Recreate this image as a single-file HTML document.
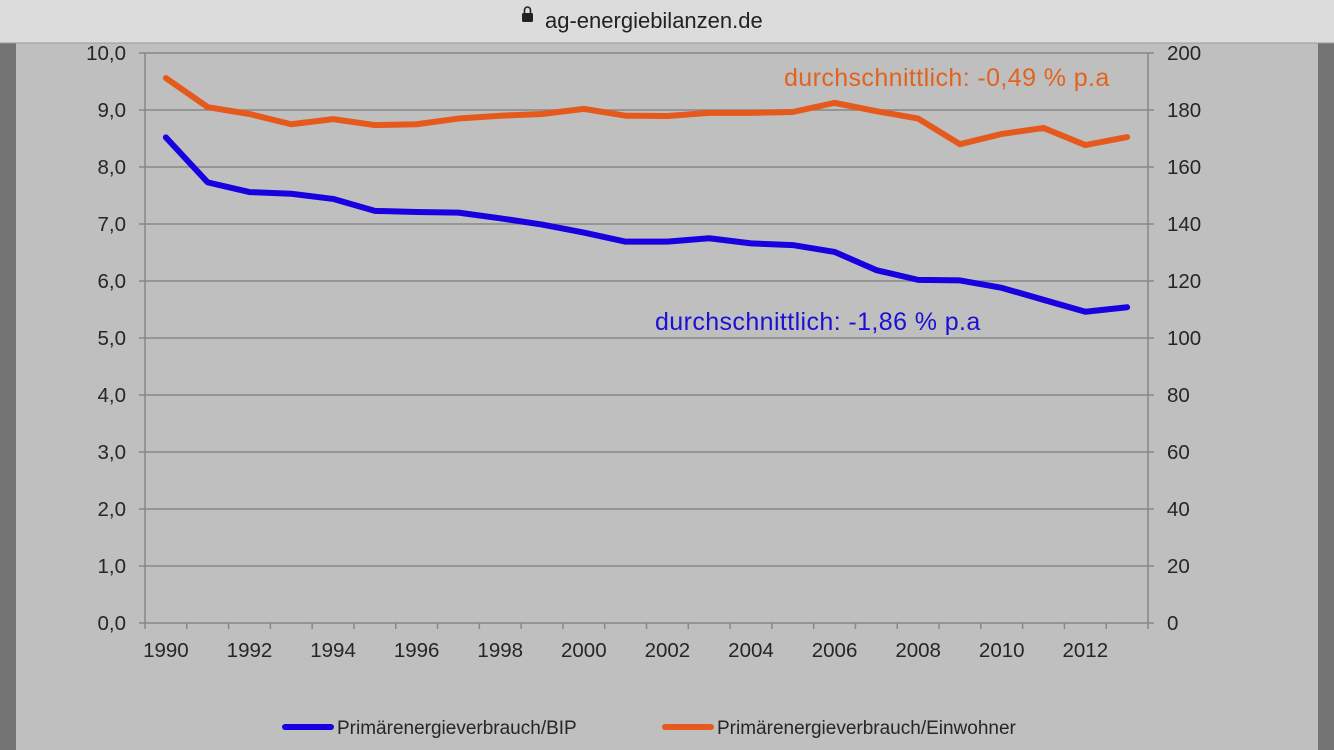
<!DOCTYPE html>
<html><head><meta charset="utf-8"><style>
body{margin:0;width:1334px;height:750px;overflow:hidden;background:#bfbfbf;font-family:"Liberation Sans",sans-serif}
</style></head><body>
<svg width="1334" height="750" id="c" style="position:absolute;left:0;top:0">
<rect x="0" y="0" width="1334" height="750" fill="#bfbfbf"/>
<rect x="0" y="43" width="16" height="707" fill="#737373"/>
<rect x="1318" y="43" width="16" height="707" fill="#737373"/>
<rect x="0" y="0" width="1334" height="43" fill="#dcdcdc"/>
<line x1="0" y1="43" x2="1334" y2="43" stroke="#9a9a9a"/>
<g>
<rect x="522" y="13" width="11" height="9" rx="1.5" fill="#222"/>
<path d="M524.5 13 v-3 a3 3 0 0 1 6 0 v3" fill="none" stroke="#222" stroke-width="1.6"/>
<text x="545" y="28" font-size="22" fill="#222">ag-energiebilanzen.de</text>
</g>
<g id="grid"></g><g id="axes"></g><g id="lines"></g>
<text x="784" y="86" font-size="25" letter-spacing="0.4" fill="#e2631e">durchschnittlich: -0,49 % p.a</text>
<text x="655" y="330" font-size="25" letter-spacing="0.4" fill="#1d10d4">durchschnittlich: -1,86 % p.a</text>
<g>
<line x1="285" y1="727" x2="331" y2="727" stroke="#1800e0" stroke-width="6" stroke-linecap="round"/>
<text x="337" y="734" font-size="19" fill="#262626">Primärenergieverbrauch/BIP</text>
<line x1="665" y1="727" x2="711" y2="727" stroke="#e55a1c" stroke-width="6" stroke-linecap="round"/>
<text x="717" y="734" font-size="19" fill="#262626">Primärenergieverbrauch/Einwohner</text>
</g>
</svg>
<script>
const years=[1990,1991,1992,1993,1994,1995,1996,1997,1998,1999,2000,2001,2002,2003,2004,2005,2006,2007,2008,2009,2010,2011,2012,2013];
const bipValues=[8.52,7.73,7.56,7.53,7.44,7.23,7.21,7.20,7.10,6.99,6.85,6.69,6.69,6.75,6.66,6.63,6.51,6.19,6.02,6.01,5.88,5.67,5.46,5.54];
const einwohnerValues=[191.2,181,178.6,175,176.8,174.7,175,177,178,178.6,180.4,178,177.9,179,179,179.3,182.5,179.6,177,168,171.6,173.7,167.7,170.5];
const leftTicks=["0,0","1,0","2,0","3,0","4,0","5,0","6,0","7,0","8,0","9,0","10,0"];
const rightTicks=["0","20","40","60","80","100","120","140","160","180","200"];
const NS="http://www.w3.org/2000/svg";
const X0=145,X1=1148,Y0=623,Y1=53;
const step=(X1-X0)/years.length;
const xPos=i=>X0+step*(i+0.5);
const yL=v=>Y0-(v/10)*(Y0-Y1);
const yR=v=>Y0-(v/200)*(Y0-Y1);
function mk(t,a,p){const e=document.createElementNS(NS,t);for(const k in a)e.setAttribute(k,a[k]);p.appendChild(e);return e;}
const grid=document.getElementById('grid'),axes=document.getElementById('axes'),lines=document.getElementById('lines');
leftTicks.forEach((t,i)=>{
  const y=Y0-i*(Y0-Y1)/10;
  if(i>0){const g=mk('line',{x1:X0,x2:X1,y1:y,y2:y,stroke:'#878787','stroke-width':1.5},grid);
  
  }
  const tk=mk('line',{x1:X0-6,x2:X0,y1:y,y2:y,stroke:'#878787','stroke-width':1.5},axes);
  
  
  const tk2=mk('line',{x1:X1,x2:X1+6,y1:y,y2:y,stroke:'#878787','stroke-width':1.5},axes);
  
  
  const l=mk('text',{x:126,y:y+7,'font-size':20.5,fill:'#262626','text-anchor':'end'},axes);l.textContent=t;
  
  
  const r=mk('text',{x:1167,y:y+7,'font-size':20.5,fill:'#262626'},axes);r.textContent=rightTicks[i];
  
  
});
const la=mk('line',{x1:X0,x2:X0,y1:Y1,y2:Y0,stroke:'#878787','stroke-width':1.5},axes);


const ra=mk('line',{x1:X1,x2:X1,y1:Y1,y2:Y0,stroke:'#878787','stroke-width':1.5},axes);


const xa=mk('line',{x1:X0,x2:X1,y1:Y0,y2:Y0,stroke:'#878787','stroke-width':1.5},axes);


for(let i=0;i<=years.length;i++){
  const x=X0+i*step;
  const t=mk('line',{x1:x,x2:x,y1:Y0,y2:Y0+6,stroke:'#878787','stroke-width':1.5},axes);
  
  
}
years.forEach((yr,i)=>{if(i%2)return;
  const t=mk('text',{x:xPos(i),y:657,'font-size':20.5,fill:'#262626','text-anchor':'middle'},axes);t.textContent=yr;
  
  
});
const p1=mk('polyline',{points:einwohnerValues.map((v,i)=>xPos(i)+','+yR(v)).join(' '),fill:'none',stroke:'#e55a1c','stroke-width':6,'stroke-linecap':'round','stroke-linejoin':'round'},lines);


const p2=mk('polyline',{points:bipValues.map((v,i)=>xPos(i)+','+yL(v)).join(' '),fill:'none',stroke:'#1800e0','stroke-width':6,'stroke-linecap':'round','stroke-linejoin':'round'},lines);


</script>
</body></html>
